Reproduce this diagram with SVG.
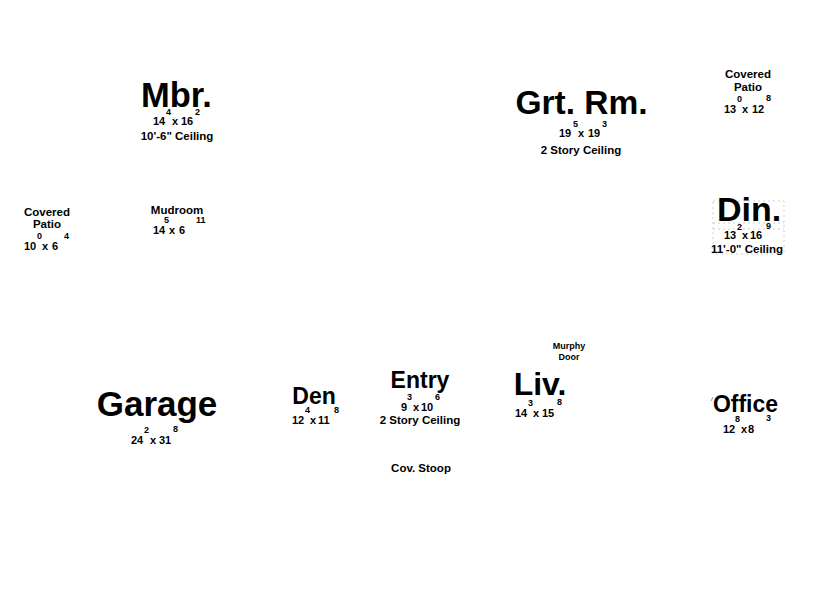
<svg xmlns="http://www.w3.org/2000/svg" width="816" height="593" viewBox="0 0 816 593">
<style>
.t{font-family:"Liberation Sans",Arial,sans-serif;font-weight:bold;fill:#000}
.big{font-size:34px;text-anchor:middle}
.mid{font-size:23px;text-anchor:middle}
.sm{font-size:11.5px;text-anchor:middle}
.xs{font-size:9px;text-anchor:middle}
.dim{font-size:11px}
.sup{font-size:9px}
.guide{fill:none;stroke:#cfcfcf;stroke-width:1;stroke-dasharray:2 3}
</style>
<rect width="816" height="593" fill="#fff"/>
<g id="connectors"/>
<g id="mbr">
<text class="t big" x="176.5" y="107" style="font-size:34.5px">Mbr.</text>
<text class="t dim"><tspan x="153" y="125">14</tspan><tspan class="sup" x="166" y="115">4</tspan><tspan x="172" y="125">x</tspan><tspan x="181" y="125">16</tspan><tspan class="sup" x="195" y="115">2</tspan></text>
<text class="t sm" x="177" y="140">10'-6" Ceiling</text>
</g>
<g id="grt-rm">
<text class="t big" x="581.5" y="114" style="font-size:33.5px">Grt. Rm.</text>
<text class="t dim"><tspan x="559" y="137">19</tspan><tspan class="sup" x="573" y="127">5</tspan><tspan x="578" y="137">x</tspan><tspan x="588" y="137">19</tspan><tspan class="sup" x="602" y="127">3</tspan></text>
<text class="t sm" x="581" y="154">2 Story Ceiling</text>
</g>
<g id="covered-patio-right">
<text class="t sm" x="748" y="78">Covered</text>
<text class="t sm" x="748" y="91">Patio</text>
<text class="t dim"><tspan x="724" y="113">13</tspan><tspan class="sup" x="737" y="102">0</tspan><tspan x="742" y="113">x</tspan><tspan x="752" y="113">12</tspan><tspan class="sup" x="766" y="101">8</tspan></text>
</g>
<g id="covered-patio-left">
<text class="t sm" x="47" y="216">Covered</text>
<text class="t sm" x="47" y="228">Patio</text>
<text class="t dim"><tspan x="24" y="250">10</tspan><tspan class="sup" x="37" y="239">0</tspan><tspan x="42" y="250">x</tspan><tspan x="52" y="250">6</tspan><tspan class="sup" x="64" y="239">4</tspan></text>
</g>
<g id="mudroom">
<text class="t sm" x="177" y="214">Mudroom</text>
<text class="t dim"><tspan x="153" y="234">14</tspan><tspan class="sup" x="164" y="223">5</tspan><tspan x="169" y="234">x</tspan><tspan x="179" y="234">6</tspan><tspan class="sup" x="196" y="223">11</tspan></text>
</g>
<g id="din">
<rect class="guide" x="713" y="201" width="71" height="53"/>
<line class="guide" x1="713" y1="223" x2="784" y2="223"/>
<line class="guide" x1="713" y1="229" x2="784" y2="229"/>
<text class="t big" x="749" y="221">Din.</text>
<text class="t dim"><tspan x="724" y="239">13</tspan><tspan class="sup" x="737" y="230">2</tspan><tspan x="742" y="239">x</tspan><tspan x="750" y="239">16</tspan><tspan class="sup" x="766" y="229">9</tspan></text>
<text class="t sm" x="747" y="253">11'-0" Ceiling</text>
</g>
<g id="garage">
<text class="t big" x="157" y="416" style="font-size:35px">Garage</text>
<text class="t dim"><tspan x="131" y="444">24</tspan><tspan class="sup" x="144" y="433">2</tspan><tspan x="150" y="444">x</tspan><tspan x="159" y="444">31</tspan><tspan class="sup" x="173" y="432">8</tspan></text>
</g>
<g id="den">
<text class="t mid" x="314" y="404">Den</text>
<text class="t dim"><tspan x="292" y="424">12</tspan><tspan class="sup" x="305" y="413">4</tspan><tspan x="310" y="424">x</tspan><tspan x="318" y="424">11</tspan><tspan class="sup" x="334" y="413">8</tspan></text>
</g>
<g id="entry">
<text class="t mid" x="420" y="388">Entry</text>
<text class="t dim"><tspan x="401" y="411">9</tspan><tspan class="sup" x="407" y="400">3</tspan><tspan x="413" y="411">x</tspan><tspan x="421" y="411">10</tspan><tspan class="sup" x="435" y="400">6</tspan></text>
<text class="t sm" x="420" y="424">2 Story Ceiling</text>
</g>
<g id="cov-stoop">
<text class="t sm" x="421" y="472">Cov. Stoop</text>
</g>
<g id="murphy-door">
<text class="t xs" x="569" y="349">Murphy</text>
<text class="t xs" x="569" y="360">Door</text>
</g>
<g id="liv">
<text class="t big" x="540" y="395" style="font-size:32px">Liv.</text>
<text class="t dim"><tspan x="515" y="417">14</tspan><tspan class="sup" x="528" y="406">3</tspan><tspan x="533" y="417">x</tspan><tspan x="542" y="417">15</tspan><tspan class="sup" x="557" y="405">8</tspan></text>
</g>
<g id="office">
<line x1="711" y1="401" x2="713" y2="397" stroke="#999" stroke-width="1"/>
<text class="t mid" x="745.5" y="412">Office</text>
<text class="t dim"><tspan x="723" y="433">12</tspan><tspan class="sup" x="735" y="422">8</tspan><tspan x="741" y="433">x</tspan><tspan x="748" y="433">8</tspan><tspan class="sup" x="766" y="421">3</tspan></text>
</g>
</svg>
